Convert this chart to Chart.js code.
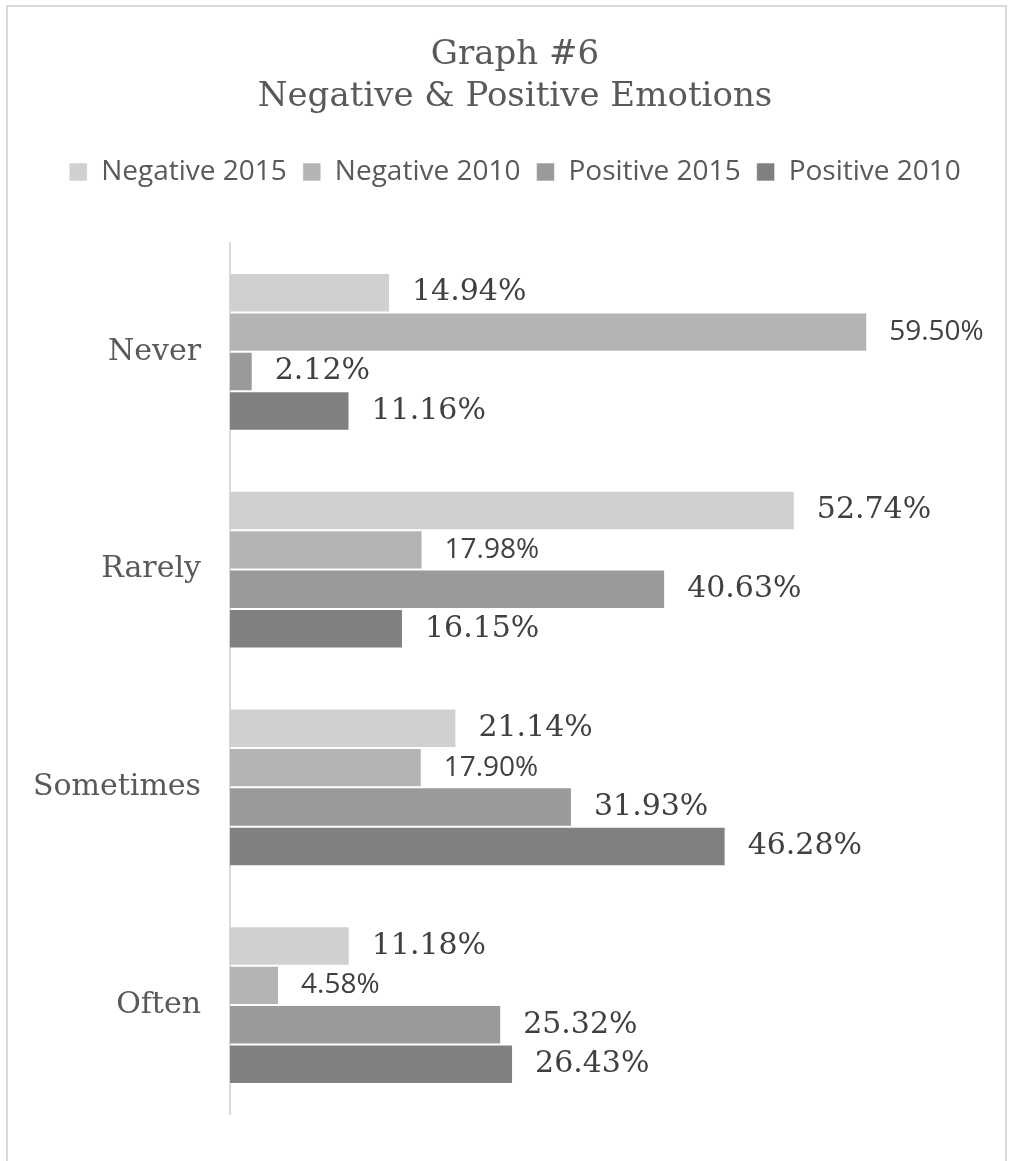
<!DOCTYPE html>
<html lang="en">
<head>
    <meta charset="UTF-8">
    <title>Graph #6 - Negative & Positive Emotions</title>
    <script src="https://cdn.jsdelivr.net/npm/chart.js"></script>
    <style>
        body {
            margin: 0;
            background: #ffffff;
            overflow: hidden;
        }

        .chart-frame {
            position: absolute;
            left: 6px;
            top: 5px;
            width: 1001px;
            height: 1180px;
            border: 2px solid #d9d9d9;
            box-sizing: border-box;
        }

        #emotionsChart {
            position: absolute;
            left: 0;
            top: 0;
        }
    </style>
</head>
<body>
    <div class="chart-frame"></div>
    <canvas id="emotionsChart" width="1030" height="1161"></canvas>

    <script>
        // Survey answers, in percent
        const categories = ['Never', 'Rarely', 'Sometimes', 'Often'];
        const negative2015 = [14.94, 52.74, 21.14, 11.18];
        const negative2010 = [59.50, 17.98, 17.90, 4.58];
        const positive2015 = [2.12, 40.63, 31.93, 25.32];
        const positive2010 = [11.16, 16.15, 46.28, 26.43];
        const seriesNames = ['Negative 2015', 'Negative 2010', 'Positive 2015', 'Positive 2010'];
        const seriesColors = ['#d0d0d0', '#b4b4b4', '#9a9a9a', '#808080'];

        const serif = "'DejaVu Serif', serif";
        const sans = "'Open Sans', sans-serif";

        // value labels to the right of each bar (2010 negatives use the sans face)
        const barLabels = {
            id: 'barLabels',
            afterDatasetsDraw(chart) {
                const ctx = chart.ctx;
                ctx.save();
                ctx.fillStyle = '#404040';
                ctx.textAlign = 'left';
                ctx.textBaseline = 'middle';
                chart.data.datasets.forEach((ds, i) => {
                    ctx.font = i === 1 ? '28px ' + sans : '30px ' + serif;
                    chart.getDatasetMeta(i).data.forEach((bar, j) => {
                        ctx.fillText(ds.data[j].toFixed(2) + '%', bar.x + 22, bar.y);
                    });
                });
                ctx.restore();
            }
        };

        const seriesData = [negative2015, negative2010, positive2015, positive2010];

        new Chart(document.getElementById('emotionsChart'), {
            type: 'bar',
            data: {
                labels: categories,
                datasets: seriesData.map((values, i) => ({
                    label: seriesNames[i],
                    data: values,
                    backgroundColor: seriesColors[i],
                    borderColor: 'rgba(255,255,255,0.6)',
                    borderWidth: 1,
                    categoryPercentage: 0.725,
                    barPercentage: 1
                }))
            },
            options: {
                indexAxis: 'y',
                responsive: false,
                animation: false,
                devicePixelRatio: 1,
                layout: {
                    padding: { left: 0, right: 0, top: 0, bottom: 35 }
                },
                scales: {
                    x: {
                        type: 'linear',
                        position: 'top',
                        min: 0,
                        max: 74.7,
                        grid: { display: false, drawTicks: false },
                        border: { display: false },
                        ticks: { display: false },
                        // leaves the gap between legend and bars
                        afterFit(scale) { scale.height = 47; }
                    },
                    y: {
                        grid: { display: false, drawTicks: false },
                        border: { display: true, color: '#d9d9d9', width: 2 },
                        ticks: {
                            color: '#595959',
                            padding: 29,
                            font: { family: serif, size: 30 }
                        },
                        afterFit(scale) { scale.width = 230; }
                    }
                },
                plugins: {
                    title: {
                        display: true,
                        text: ['Graph #6', 'Negative & Positive Emotions'],
                        color: '#595959',
                        font: { family: serif, size: 34, weight: 'normal', lineHeight: 1.235 },
                        padding: { top: 34, bottom: 24 }
                    },
                    legend: {
                        position: 'top',
                        labels: {
                            color: '#595959',
                            boxWidth: 18,
                            boxHeight: 18,
                            padding: 16,
                            font: { family: sans, size: 28 }
                        }
                    },
                    tooltip: { enabled: false }
                }
            },
            plugins: [barLabels]
        });
    </script>
</body>
</html>
